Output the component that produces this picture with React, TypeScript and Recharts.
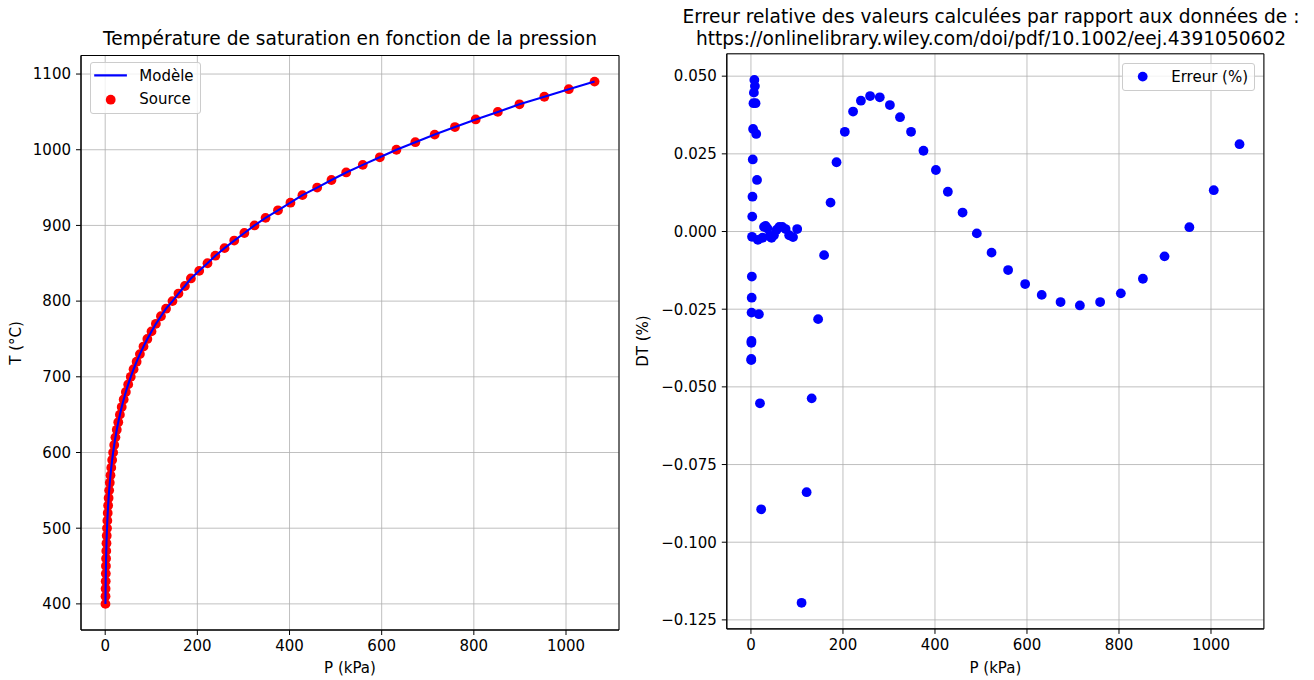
import React from 'react';
import {
  ComposedChart,
  LineChart,
  ScatterChart,
  Scatter,
  Line,
  XAxis,
  YAxis,
  CartesianGrid,
  ReferenceArea,
} from 'recharts';

// ---- data ----
const temperatureC = [
  400, 410, 420, 430, 440, 450, 460, 470, 480, 490,
  500, 510, 520, 530, 540, 550, 560, 570, 580, 590,
  600, 610, 620, 630, 640, 650, 660, 670, 680, 690,
  700, 710, 720, 730, 740, 750, 760, 770, 780, 790,
  800, 810, 820, 830, 840, 850, 860, 870, 880, 890,
  900, 910, 920, 930, 940, 950, 960, 970, 980, 990,
  1000, 1010, 1020, 1030, 1040, 1050, 1060, 1070, 1080, 1090,
];

const pressureKPa = [
  0.58, 0.72, 0.89, 1.09, 1.34, 1.62, 1.95, 2.34, 2.8, 3.33,
  3.94, 4.65, 5.45, 6.38, 7.42, 8.61, 9.96, 11.47, 13.17, 15.08,
  17.21, 19.58, 22.21, 25.13, 28.35, 31.9, 35.81, 40.09, 44.78, 49.91,
  55.5, 61.59, 68.19, 75.35, 83.11, 91.47, 100.5, 110, 121, 132,
  146, 159, 173, 186, 204, 222, 239, 259, 280, 302,
  324, 348, 375, 402, 428, 460, 491, 523, 559, 596,
  632, 673, 715, 759, 804, 852, 899, 953, 1006, 1062,
];

const errorPct = [
  -0.0414, -0.041, -0.0358, -0.0352, -0.0261, -0.0213, -0.0145, -0.0017, 0.0048, 0.0112,
  0.0232, 0.033, 0.0413, 0.0447, 0.0488, 0.0468, 0.0413, 0.0314, 0.0166, -0.0027,
  -0.0266, -0.0553, -0.0894, -0.002, 0.0015, 0.0018, 0.001, -0.0015, -0.002, -0.0012,
  0.0005, 0.0015, 0.0015, 0.0008, -0.0012, -0.0018, 0.0008, -0.1195, -0.0839, -0.0537,
  -0.0282, -0.0076, 0.0093, 0.0223, 0.0321, 0.0386, 0.0421, 0.0436, 0.0432, 0.0407,
  0.0368, 0.0321, 0.026, 0.0198, 0.0128, 0.0061, -0.0006, -0.0068, -0.0124, -0.0169,
  -0.0204, -0.0227, -0.0238, -0.0227, -0.0199, -0.0152, -0.008, 0.0014, 0.0133, 0.0281,
];

const pressureTicks = [0, 200, 400, 600, 800, 1000];
const temperatureTicks = [400, 500, 600, 700, 800, 900, 1000, 1100];
const errorTicks = [-0.125, -0.1, -0.075, -0.05, -0.025, 0, 0.025, 0.05];

const leftTitle = 'Température de saturation en fonction de la pression';
const rightTitleLines = [
  'Erreur relative des valeurs calculées par rapport aux données de :',
  'https://onlinelibrary.wiley.com/doi/pdf/10.1002/eej.4391050602',
];

const rows = temperatureC.map((t, i) => ({ p: pressureKPa[i], t, e: errorPct[i] }));

// ---- style ----
const FONT = 'DejaVu Sans, sans-serif';
const tickStyle = { fontSize: 15, fill: '#000', fontFamily: FONT };
const gridColor = '#b0b0b0';

const pDomain: [number, number] = [-52.5, 1115];
const tDomain: [number, number] = [365.5, 1124.5];
const eDomain: [number, number] = [-0.1279, 0.0572];

const fmtErr = (v: number) => {
  const s = Math.abs(v).toFixed(3);
  return v < -1e-9 ? '\u2212' + s : s;
};

const R = 4.9;

const dot = (color: string) => (props: any) =>
  props.cx == null ? <g key={props.key} /> : (
    <circle key={props.key} cx={props.cx} cy={props.cy} r={R} fill={color} />
  );

const textBase: React.CSSProperties = {
  position: 'absolute',
  fontFamily: FONT,
  color: '#000',
  whiteSpace: 'nowrap',
};

export default function App() {
  return (
    <div
      style={{
        position: 'absolute',
        left: 0,
        top: 0,
        width: 1314,
        height: 680,
        background: '#fff',
        fontFamily: FONT,
        overflow: 'hidden',
      }}
    >
      {/* Left chart: axes, grid, source points */}
      <div style={{ position: 'absolute', left: 0, top: 0 }}>
        <ComposedChart
          width={660}
          height={680}
          data={rows}
          margin={{ top: 55.5, right: 41, bottom: 0, left: 0 }}
        >
          <CartesianGrid stroke={gridColor} strokeWidth={0.8} />
          <XAxis
            dataKey="p"
            type="number"
            domain={pDomain}
            ticks={pressureTicks}
            allowDataOverflow
            height={50}
            tick={tickStyle}
            tickSize={5}
            tickMargin={5}
            stroke="#000"
            tickLine={{ stroke: '#000' }}
          />
          <YAxis
            dataKey="t"
            type="number"
            domain={tDomain}
            ticks={temperatureTicks}
            allowDataOverflow
            width={81}
            tick={tickStyle}
            tickSize={5}
            tickMargin={5}
            stroke="#000"
            tickLine={{ stroke: '#000' }}
          />
          <Scatter
            dataKey="t"
            fill="#ff0000"
            shape={dot('#ff0000')}
            isAnimationActive={false}
          />
          <ReferenceArea
            x1={pDomain[0]}
            x2={pDomain[1]}
            y1={tDomain[0]}
            y2={tDomain[1]}
            fill="none"
            fillOpacity={0}
            stroke="#000"
            strokeWidth={1}
            ifOverflow="visible"
          />
        </ComposedChart>
      </div>

      {/* Left chart overlay: model curve drawn on top of the points */}
      <div style={{ position: 'absolute', left: 0, top: 0, pointerEvents: 'none' }}>
        <LineChart
          width={660}
          height={680}
          data={rows}
          margin={{ top: 55.5, right: 41, bottom: 50, left: 81 }}
        >
          <XAxis dataKey="p" type="number" domain={pDomain} allowDataOverflow hide />
          <YAxis dataKey="t" type="number" domain={tDomain} allowDataOverflow hide />
          <Line
            dataKey="t"
            type="linear"
            stroke="#0000ff"
            strokeWidth={2.1}
            dot={false}
            activeDot={false}
            isAnimationActive={false}
          />
        </LineChart>
      </div>

      {/* Right chart */}
      <div style={{ position: 'absolute', left: 660, top: 0 }}>
        <ScatterChart
          width={654}
          height={680}
          margin={{ top: 53.8, right: 50.1, bottom: 0, left: 0 }}
        >
          <CartesianGrid stroke={gridColor} strokeWidth={0.8} />
          <XAxis
            dataKey="p"
            type="number"
            domain={pDomain}
            ticks={pressureTicks}
            allowDataOverflow
            height={51.1}
            tick={tickStyle}
            tickSize={5}
            tickMargin={5}
            stroke="#000"
            tickLine={{ stroke: '#000' }}
          />
          <YAxis
            dataKey="e"
            type="number"
            domain={eDomain}
            ticks={errorTicks}
            tickFormatter={fmtErr}
            allowDataOverflow
            width={66.8}
            tick={tickStyle}
            tickSize={5}
            tickMargin={5}
            stroke="#000"
            tickLine={{ stroke: '#000' }}
          />
          <Scatter
            data={rows}
            fill="#0000ff"
            shape={dot('#0000ff')}
            isAnimationActive={false}
          />
          <ReferenceArea
            x1={pDomain[0]}
            x2={pDomain[1]}
            y1={eDomain[0]}
            y2={eDomain[1]}
            fill="none"
            fillOpacity={0}
            stroke="#000"
            strokeWidth={1}
            ifOverflow="visible"
          />
        </ScatterChart>
      </div>

      {/* Titles */}
      <div
        style={{
          ...textBase,
          left: 50,
          width: 600,
          top: 27.7,
          textAlign: 'center',
          fontSize: 18.6,
          lineHeight: '22.6px',
        }}
      >
        {leftTitle}
      </div>
      <div
        style={{
          ...textBase,
          left: 991 - 350,
          width: 700,
          top: 5.7,
          textAlign: 'center',
          fontSize: 18.6,
          lineHeight: '22.6px',
        }}
      >
        {rightTitleLines.map((l) => (
          <div key={l}>{l}</div>
        ))}
      </div>

      {/* Axis labels */}
      <div
        style={{
          ...textBase,
          left: 350,
          top: 668,
          fontSize: 15,
          transform: 'translate(-50%, -50%)',
        }}
      >
        P (kPa)
      </div>
      <div
        style={{
          ...textBase,
          left: 995.4,
          top: 668,
          fontSize: 15,
          transform: 'translate(-50%, -50%)',
        }}
      >
        P (kPa)
      </div>
      <div
        style={{
          ...textBase,
          left: 16,
          top: 342.8,
          fontSize: 15,
          transform: 'translate(-50%, -50%) rotate(-90deg)',
        }}
      >
        T (°C)
      </div>
      <div
        style={{
          ...textBase,
          left: 643,
          top: 341.4,
          fontSize: 15,
          transform: 'translate(-50%, -50%) rotate(-90deg)',
        }}
      >
        DT (%)
      </div>

      {/* Left legend */}
      <div
        style={{
          position: 'absolute',
          left: 89.6,
          top: 62.3,
          width: 111,
          height: 51.7,
          boxSizing: 'border-box',
          border: '1px solid #cccccc',
          borderRadius: 3,
          background: 'rgba(255,255,255,0.8)',
        }}
      >
        <svg width={111} height={52} style={{ position: 'absolute', left: -1, top: -1 }}>
          <line x1={4.2} x2={36.9} y1={13.4} y2={13.4} stroke="#0000ff" strokeWidth={2.1} />
          <circle cx={20.7} cy={37.7} r={R} fill="#ff0000" />
        </svg>
        <div style={{ ...textBase, left: 48.7, top: 12.4, fontSize: 15, transform: 'translateY(-50%)' }}>
          Modèle
        </div>
        <div style={{ ...textBase, left: 48.7, top: 35.4, fontSize: 15, transform: 'translateY(-50%)' }}>
          Source
        </div>
      </div>

      {/* Right legend */}
      <div
        style={{
          position: 'absolute',
          left: 1121.5,
          top: 63,
          width: 133.5,
          height: 27.5,
          boxSizing: 'border-box',
          border: '1px solid #cccccc',
          borderRadius: 3,
          background: 'rgba(255,255,255,0.8)',
        }}
      >
        <svg width={134} height={28} style={{ position: 'absolute', left: -1, top: -1 }}>
          <circle cx={20.7} cy={13.6} r={R} fill="#0000ff" />
        </svg>
        <div style={{ ...textBase, left: 48.7, top: 12.6, fontSize: 15, transform: 'translateY(-50%)' }}>
          Erreur (%)
        </div>
      </div>
    </div>
  );
}
